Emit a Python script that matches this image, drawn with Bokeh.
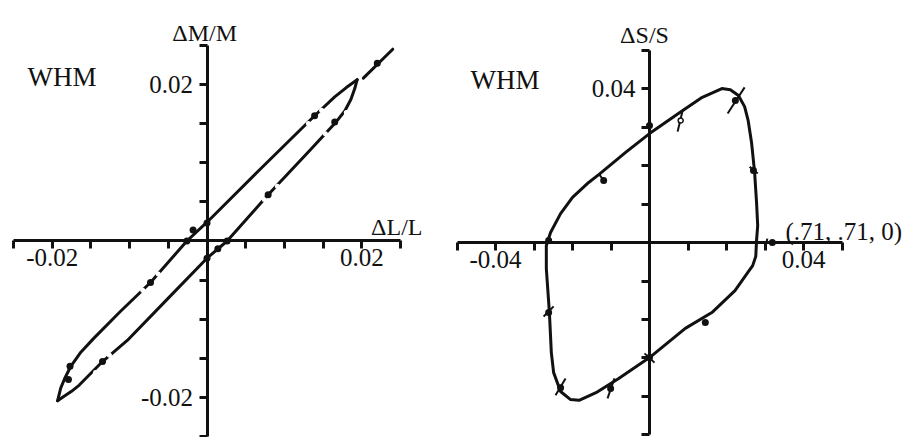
from bokeh.core.properties import value
from bokeh.embed import file_html
from bokeh.layouts import row
from bokeh.models import FixedTicker, LinearAxis, Range1d
from bokeh.plotting import figure
from bokeh.resources import INLINE

SERIF = "Liberation Serif"
INK = "#111111"

# ---------------- WHM: L-cone against M-cone contrast ----------------
lm_ticks = [-0.025, -0.02, -0.015, -0.01, -0.005, 0.0, 0.005, 0.01, 0.015, 0.02, 0.025]
lm_x_labels = {-0.02: "-0.02", 0.02: "0.02"}
lm_y_labels = {-0.02: "-0.02", 0.02: "0.02"}

# upper-left branch of the loop, lower tip -> upper tip
lm_upper_x = [-0.0193, -0.0189, -0.0184, -0.0176, -0.0163, -0.0147, -0.0112, -0.0073,
              -0.0026, 0.0000, 0.0068, 0.0139, 0.0165, 0.0180, 0.0194]
lm_upper_y = [-0.0204, -0.0188, -0.0176, -0.0160, -0.0142, -0.0125, -0.0090, -0.0053,
              0.0000, 0.0024, 0.0091, 0.0160, 0.0184, 0.0196, 0.0206]
# lower-right branch of the loop, lower tip -> upper tip
lm_lower_x = [-0.0193, -0.0187, -0.0175, -0.0165, -0.0135, -0.0103, -0.0050, 0.0000,
              0.0026, 0.0079, 0.0133, 0.0165, 0.0178, 0.0186, 0.0191, 0.0194]
lm_lower_y = [-0.0204, -0.0200, -0.0192, -0.0184, -0.0154, -0.0127, -0.0073, -0.0022,
              0.0000, 0.0059, 0.0116, 0.0150, 0.0166, 0.0181, 0.0195, 0.0206]
# continuation beyond the upper tip
lm_tail_x = [0.0202, 0.0240]
lm_tail_y = [0.0208, 0.0245]

lm_dot_x = [0.0220, 0.0139, 0.0165, 0.0079, -0.0073, -0.0135, -0.0177, -0.0179,
            -0.0018, -0.0026, 0.0000, 0.0026, 0.0014, 0.0000]
lm_dot_y = [0.0227, 0.0160, 0.0152, 0.0059, -0.0053, -0.0154, -0.0160, -0.0177,
            0.0014, 0.0000, 0.0023, 0.0000, -0.0010, -0.0022]

# breaks in the traced line beside the measured points
lm_gap_x = [-0.0083, -0.0063, 0.0131, 0.0148, -0.0144, -0.0126, 0.0074, 0.0091, 0.0153, 0.0180]
lm_gap_y = [-0.0063, -0.0042, 0.0150, 0.0167, -0.0168, -0.0146, 0.0053, 0.0070, 0.0137, 0.0164]

# ---------------- WHM: S-cone against (.71, .71, 0) ----------------
s_ticks = [-0.05, -0.04, -0.03, -0.02, -0.01, 0.0, 0.01, 0.02, 0.03, 0.04, 0.05]
s_x_labels = {-0.04: "-0.04", 0.04: "0.04"}
s_y_labels = {0.04: "0.04"}

s_loop_x = [0.0000, 0.0075, 0.0137, 0.0188, 0.0210, 0.0231, 0.0247, 0.0256, 0.0265,
            0.0273, 0.0278, 0.0281, 0.0278, 0.0276, 0.0268, 0.0255, 0.0222, 0.0162,
            0.0093, 0.0000, -0.0080, -0.0139, -0.0183, -0.0205, -0.0231, -0.0249,
            -0.0255, -0.0260, -0.0268, -0.0268, -0.0257, -0.0231, -0.0200, -0.0158,
            -0.0131, -0.0062]
s_loop_y = [0.0283, 0.0335, 0.0377, 0.0400, 0.0397, 0.0382, 0.0353, 0.0318, 0.0260,
            0.0182, 0.0104, 0.0044, 0.0005, -0.0036, -0.0060, -0.0078, -0.0125, -0.0182,
            -0.0223, -0.0299, -0.0353, -0.0390, -0.0410, -0.0408, -0.0387, -0.0338,
            -0.0286, -0.0182, -0.0068, -0.0008, 0.0026, 0.0075, 0.0117, 0.0156,
            0.0177, 0.0234]

s_dot_x = [0.0000, -0.0119, 0.0223, 0.0270, -0.0262, 0.0145, 0.0319, 0.0000, -0.0101, -0.0231, -0.0262]
s_dot_y = [0.0304, 0.0161, 0.0369, 0.0187, 0.0005, -0.0208, 0.0000, -0.0299, -0.0379, -0.0377, -0.0182]

s_ring_x = [0.0081]
s_ring_y = [0.0317]

# short hand-drawn strokes through some of the points
s_stroke_x0 = [0.0086, 0.0203, -0.0132, 0.0260, -0.0275, -0.0244, -0.0109, -0.0013, 0.0301]
s_stroke_y0 = [0.0343, 0.0335, 0.0179, 0.0197, -0.0192, -0.0397, -0.0405, -0.0288, -0.0013]
s_stroke_x1 = [0.0073, 0.0247, -0.0119, 0.0281, -0.0249, -0.0218, -0.0091, 0.0013, 0.0306]
s_stroke_y1 = [0.0288, 0.0403, 0.0161, 0.0179, -0.0166, -0.0353, -0.0353, -0.0312, 0.0010]

# breaks in the axes beside the points lying on them
s_gap_x = [0.0, 0.0, 0.0, 0.0330, 0.0345]
s_gap_y = [0.0345, 0.0325, -0.0322, 0.0, 0.0]


def panel(width, x_range, y_range, ticks, x_labels, y_labels):
    p = figure(width=width, height=437,
               x_range=Range1d(*x_range), y_range=Range1d(*y_range),
               x_axis_type=None, y_axis_type=None,
               toolbar_location=None, output_backend="svg",
               min_border=0, outline_line_color=None,
               background_fill_color="white", border_fill_color="white")
    for place, labels, standoff in (("below", x_labels, 0), ("left", y_labels, 6)):
        ax = LinearAxis(fixed_location=0, bounds=(ticks[0], ticks[-1]),
                        ticker=FixedTicker(ticks=ticks, minor_ticks=[]),
                        major_label_overrides={t: labels.get(t, "") for t in ticks},
                        axis_line_width=3, axis_line_color=INK,
                        major_tick_line_width=3, major_tick_line_color=INK,
                        major_tick_in=0, major_tick_out=8,
                        minor_tick_line_color=None,
                        major_label_text_font=SERIF, major_label_text_font_size="25px",
                        major_label_text_color=INK, major_label_standoff=standoff)
        p.add_layout(ax, place)
    return p


def words(p, x, y, text, size, align="left"):
    p.text(x=[x], y=[y], text=[text], text_font=value(SERIF), text_font_size=size,
           text_align=align, text_baseline="alphabetic", text_color=INK)


# left panel
left = panel(450, (-0.02668, 0.03146), (-0.02510, 0.03072), lm_ticks, lm_x_labels, lm_y_labels)
for xs, ys in ((lm_upper_x, lm_upper_y), (lm_lower_x, lm_lower_y), (lm_tail_x, lm_tail_y)):
    left.line(xs, ys, line_color=INK, line_width=3, line_join="round", line_cap="round")
left.scatter(lm_gap_x, lm_gap_y, size=5, fill_color="white", line_color=None)
left.scatter(lm_dot_x, lm_dot_y, size=7, fill_color=INK, line_color=None)
words(left, -0.0232, 0.0210, "WHM", "27px")
words(left, -0.0003, 0.0266, "ΔM/M", "24px", "center")
words(left, 0.0212, 0.0018, "ΔL/L", "24px")

# right panel
right = panel(459, (-0.05169, 0.06753), (-0.05065, 0.06286), s_ticks, s_x_labels, s_y_labels)
right.line(s_loop_x + s_loop_x[:1], s_loop_y + s_loop_y[:1], line_color=INK, line_width=3,
           line_join="round")
right.scatter(s_gap_x, s_gap_y, size=6, fill_color="white", line_color=None)
right.segment(s_stroke_x0, s_stroke_y0, s_stroke_x1, s_stroke_y1, line_color=INK, line_width=2)
right.scatter(s_dot_x, s_dot_y, size=7, fill_color=INK, line_color=None)
right.scatter(s_ring_x, s_ring_y, size=5, fill_color="white", line_color=INK, line_width=1.5)
words(right, -0.0465, 0.0421, "WHM", "27px")
words(right, -0.0013, 0.0540, "ΔS/S", "24px", "center")
words(right, 0.0353, 0.0029, "(.71, .71, 0)", "25px")

layout = row(left, right)
open("out.html", "w").write(file_html(layout, INLINE))
